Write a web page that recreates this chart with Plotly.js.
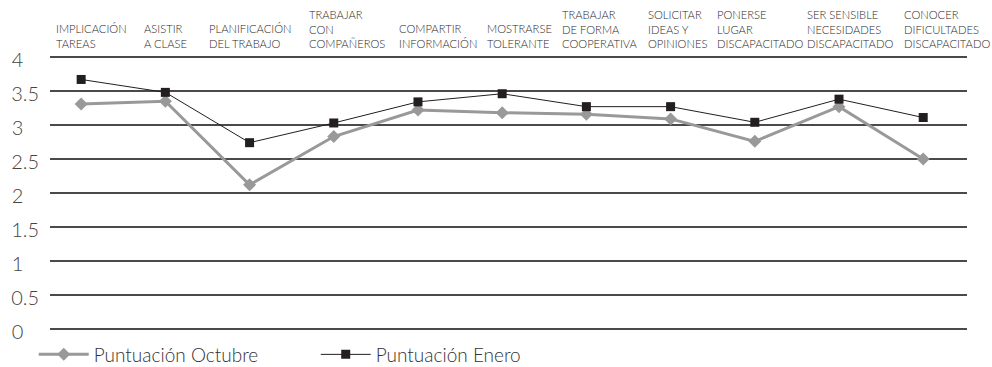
<!DOCTYPE html>
<html>
<head>
<meta charset="utf-8">
<script src="https://cdn.plot.ly/plotly-3.0.1.min.js"></script>
<style>html,body{margin:0;padding:0;background:#fff;}#chart{width:992px;height:367px;}</style>
</head>
<body>
<div id="chart"></div>
<script>
const categories = [
  "IMPLICACIÓN<br>TAREAS",
  "ASISTIR<br>A CLASE",
  "PLANIFICACIÓN<br>DEL TRABAJO",
  "TRABAJAR<br>CON<br>COMPAÑEROS",
  "COMPARTIR<br>INFORMACIÓN",
  "MOSTRARSE<br>TOLERANTE",
  "TRABAJAR<br>DE FORMA<br>COOPERATIVA",
  "SOLICITAR<br>IDEAS Y<br>OPINIONES",
  "PONERSE<br>LUGAR<br>DISCAPACITADO",
  "SER SENSIBLE<br>NECESIDADES<br>DISCAPACITADO",
  "CONOCER<br>DIFICULTADES<br>DISCAPACITADO"
];
const octubre = [3.31, 3.35, 2.12, 2.83, 3.22, 3.18, 3.16, 3.09, 2.76, 3.27, 2.50];
const enero   = [3.67, 3.48, 2.74, 3.03, 3.34, 3.46, 3.27, 3.27, 3.04, 3.38, 3.11];
const yTicks = [0, 0.5, 1, 1.5, 2, 2.5, 3, 3.5, 4];
const yTickText = ["0\u2008\u2007", "0.5", "1\u2008\u2007", "1.5", "2\u2008\u2007", "2.5", "3\u2008\u2007", "3.5", "4\u2008\u2007"];
const seriesNames = ["Puntuación Octubre", "Puntuación Enero"];

// horizontal offset (px) of each category label's left edge from its category centre
const labelLeftOffset = [-27, -23, -43, -27, -21, -17, -26, -25, -40, -34, -21];

const idx = categories.map((_, i) => i);
const FONT = "Lato, 'Open Sans', sans-serif";

const traces = [
  {
    x: idx, y: octubre, name: seriesNames[0], type: "scatter", mode: "lines+markers",
    line: {color: "#999999", width: 3},
    marker: {symbol: "diamond", size: 10, color: "#999999"}
  },
  {
    x: idx, y: enero, name: seriesNames[1], type: "scatter", mode: "lines+markers",
    line: {color: "#231f20", width: 1},
    marker: {symbol: "square", size: 9, color: "#231f20"}
  }
];

const annotations = categories.map((c, i) => ({
  x: i, y: 4, xref: "x", yref: "y", text: c, showarrow: false,
  xanchor: "left", yanchor: "bottom", align: "left", yshift: 5,
  xshift: labelLeftOffset[i],
  font: {family: FONT, size: 11.2, color: "#2a2a2a", weight: 300}
}));

const layout = {
  width: 992, height: 367,
  margin: {l: 50, r: 25, t: 56, b: 37},
  paper_bgcolor: "#fff", plot_bgcolor: "#fff",
  font: {family: FONT, color: "#444"},
  xaxis: {
    range: [-0.37, 10.52], showticklabels: false, showgrid: false, zeroline: false,
    showline: false, ticks: "", fixedrange: true
  },
  yaxis: {
    range: [-0.015, 4.015], tickvals: yTicks, ticktext: yTickText, showgrid: true,
    gridcolor: "#4a4a4a", gridwidth: 1.2, zeroline: false, showline: false,
    tickfont: {family: FONT, size: 20, color: "#444", weight: 300},
    ticklabelstandoff: 10, ticklabelshift: 3
  },
  showlegend: true,
  legend: {
    orientation: "h", xref: "container", yref: "container",
    x: 0.034, y: 0.034, xanchor: "left", yanchor: "middle",
    font: {family: FONT, size: 19, color: "#333", weight: 300},
    itemwidth: 50, entrywidth: 217, entrywidthmode: "pixels", traceorder: "normal"
  },
  annotations: annotations
};

Plotly.newPlot("chart", traces, layout, {displayModeBar: false, staticPlot: true});
</script>
</body>
</html>
